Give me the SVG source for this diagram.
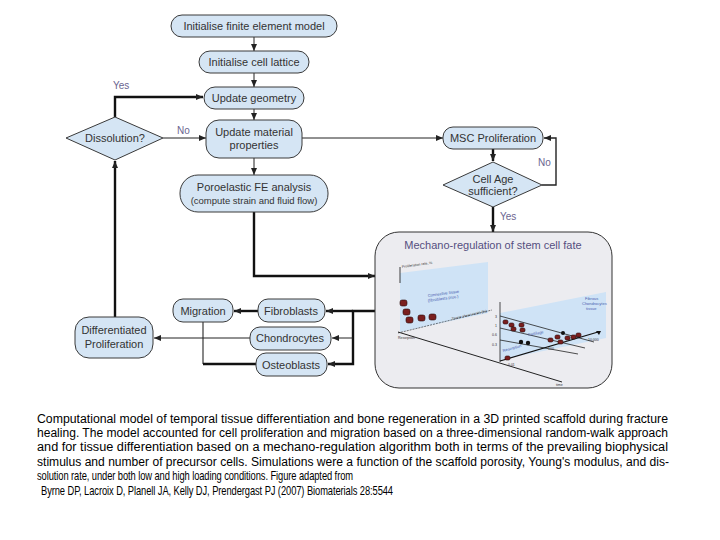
<svg xmlns="http://www.w3.org/2000/svg" width="720" height="540" viewBox="0 0 720 540">
<defs>
<marker id="ah" markerUnits="userSpaceOnUse" markerWidth="7" markerHeight="6" refX="7" refY="3" orient="auto">
<path d="M0,0 L7,3 L0,6 z" fill="#222"/>
</marker>
<style>
.n{fill:#d5e5f4;stroke:#3a3a3a;stroke-width:1}
.t{font-family:"Liberation Sans",Arial,sans-serif;font-size:11px;fill:#333;text-anchor:middle}
.lab{font-family:"Liberation Sans",Arial,sans-serif;font-size:10px;fill:#6b6590}
.thin{fill:none;stroke:#222;stroke-width:1}
.thick{fill:none;stroke:#111;stroke-width:2.4}
.cap{font-family:"Liberation Sans",Arial,sans-serif;font-size:12.5px;fill:#000}
.cap2{font-family:"Liberation Sans",Arial,sans-serif;font-size:13px;fill:#000}
.tiny{font-family:"Liberation Sans",Arial,sans-serif;font-size:3.5px;fill:#333}
.blue{font-family:"Liberation Sans",Arial,sans-serif;font-size:4px;fill:#4a5fb0}
.dot{fill:#7a1f1f;stroke:#2a0a0a;stroke-width:0.6}
</style>
</defs>
<rect width="720" height="540" fill="#fff"/>

<g id="connectors">
<path class="thin" d="M254,37 V51" marker-end="url(#ah)"/>
<path class="thin" d="M254,73 V87" marker-end="url(#ah)"/>
<path class="thin" d="M254,109 V120" marker-end="url(#ah)"/>
<path class="thin" d="M254,158 V175" marker-end="url(#ah)"/>
<path class="thick" d="M115,117 V97 H203" marker-end="url(#ah)"/>
<path class="thin" d="M163,138 H206" marker-end="url(#ah)"/>
<path class="thin" d="M302,138 H443" marker-end="url(#ah)"/>
<path class="thick" d="M493,149 V161" marker-end="url(#ah)"/>
<path class="thin" d="M542,185 H556 V138 H544" marker-end="url(#ah)" style="stroke-width:1.4"/>
<path class="thick" d="M493,207 V232" marker-end="url(#ah)"/>
<path class="thick" d="M254,212 V276 H375" marker-end="url(#ah)"/>
<path class="thick" d="M375,311 H353 V364 H328" marker-end="url(#ah)"/>
<path class="thick" d="M353,311 H326" marker-end="url(#ah)"/>
<path class="thin" d="M353,338 H332" marker-end="url(#ah)"/>
<path class="thick" d="M258,311 H234" marker-end="url(#ah)"/>
<path d="M203,322 V364" fill="none" stroke="#555" stroke-width="1.4"/>
<path class="thick" d="M203,364 H256"/>
<path class="thin" d="M250,338 H154" marker-end="url(#ah)"/>
<path class="thick" d="M115,317 V161" marker-end="url(#ah)"/>
<text class="lab" x="113" y="89">Yes</text>
<text class="lab" x="177" y="134">No</text>
<text class="lab" x="538" y="166">No</text>
<text class="lab" x="500" y="220">Yes</text>
</g>

<g id="n-init-fe">
<rect class="n" x="171" y="15" width="166" height="22" rx="11"/>
<text class="t" x="254" y="30">Initialise finite element model</text>
</g>
<g id="n-init-cell">
<rect class="n" x="199" y="51" width="110" height="22" rx="11"/>
<text class="t" x="254" y="66">Initialise cell lattice</text>
</g>
<g id="n-update-geom">
<rect class="n" x="204" y="87" width="100" height="22" rx="11"/>
<text class="t" x="254" y="102">Update geometry</text>
</g>
<g id="n-update-mat">
<rect class="n" x="206" y="120" width="96" height="38" rx="13"/>
<text class="t" x="254" y="136">Update material</text>
<text class="t" x="254" y="149">properties</text>
</g>
<g id="n-poro">
<rect class="n" x="180" y="175" width="148" height="37" rx="18"/>
<text class="t" x="254" y="191">Poroelastic FE analysis</text>
<text class="t" x="254" y="204" style="font-size:9.5px">(compute strain and fluid flow)</text>
</g>
<g id="n-dissolution">
<polygon class="n" points="115,117 163,138 115,160 66,138"/>
<text class="t" x="115" y="142">Dissolution?</text>
</g>
<g id="n-msc">
<rect class="n" x="443" y="127" width="100" height="22" rx="10"/>
<text class="t" x="493" y="142">MSC Proliferation</text>
</g>
<g id="n-cellage">
<polygon class="n" points="493,162 542,185 493,207 443,185"/>
<text class="t" x="493" y="183">Cell Age</text>
<text class="t" x="493" y="195">sufficient?</text>
</g>
<g id="n-mechano">
<rect x="375" y="232" width="237" height="156" rx="24" fill="#ececf0" stroke="#333" stroke-width="1"/>
<text x="493" y="249" style="font-family:'Liberation Sans',Arial,sans-serif;font-size:11px;fill:#554f80;text-anchor:middle">Mechano-regulation of stem cell fate</text>
<polygon points="400,273 488,262 488,313 400,332" fill="#cfe3f6"/>
<polygon points="500,313 606,292 606,338 500,360" fill="#cfe3f6"/>
<path d="M400,267 V283" stroke="#111" stroke-width="0.8"/>
<text class="tiny" x="402" y="268" transform="rotate(-8 402 268)">Proliferation rate, %</text>
<text class="blue" x="428" y="297" transform="rotate(-8 428 297)">Connective tissue</text>
<text class="blue" x="428" y="302" transform="rotate(-8 428 302)">(fibroblasts proc.)</text>
<path d="M398,333 L492,310" stroke="#222" stroke-width="0.6" stroke-dasharray="2,1"/>
<text class="tiny" x="452" y="320" transform="rotate(-13 452 320)">Tissue shear strain (%)</text>
<path d="M398,332 L562,382" stroke="#222" stroke-width="1"/>
<text class="tiny" x="398" y="339">Resorption</text>
<text class="tiny" x="556" y="386">time</text>
<path d="M500,302 V362" stroke="#222" stroke-width="0.8"/>
<path d="M500,316 L594,342 M500,328 L585,348 M500,340 L578,354" stroke="#222" stroke-width="0.8"/>
<path d="M500,361 L598,332" stroke="#111" stroke-width="1.2"/>
<path d="M596,331 L601,331 L599,335 z" fill="#111"/>
<text class="tiny" x="495" y="318">3</text>
<text class="tiny" x="495" y="327">1</text>
<text class="tiny" x="492" y="336">0.6</text>
<text class="tiny" x="492" y="346">0.3</text>
<text class="tiny" x="508" y="366">0.01</text>
<text class="tiny" x="548" y="350">100</text>
<text class="tiny" x="588" y="341">10,000</text>
<text class="blue" x="585" y="300">Fibrous</text>
<text class="blue" x="582" y="305">Chondrocytes</text>
<text class="blue" x="586" y="310">tissue</text>
<text class="blue" x="528" y="336" transform="rotate(-10 528 336)">Cartilage</text>
<text class="blue" x="503" y="352" transform="rotate(-15 503 352)">Resorption</text>
<rect class="dot" x="400" y="300" width="7" height="6" rx="2"/>
<rect class="dot" x="403" y="309" width="7" height="6" rx="2"/>
<rect class="dot" x="406" y="317" width="7" height="6" rx="2"/>
<rect class="dot" x="418" y="315" width="7" height="6" rx="2"/>
<rect class="dot" x="429" y="314" width="7" height="6" rx="2"/>
<rect class="dot" x="503" y="320" width="5" height="4" rx="1.5"/>
<rect class="dot" x="509" y="323" width="5" height="4" rx="1.5"/>
<rect class="dot" x="511" y="327" width="5" height="4" rx="1.5"/>
<rect class="dot" x="519" y="323" width="5" height="4" rx="1.5"/>
<rect class="dot" x="520" y="328" width="5" height="4" rx="1.5"/>
<rect class="dot" x="548" y="338" width="5" height="4" rx="1.5"/>
<rect class="dot" x="555" y="335" width="5" height="4" rx="1.5"/>
<rect class="dot" x="558" y="340" width="5" height="4" rx="1.5"/>
<rect class="dot" x="565" y="336" width="5" height="4" rx="1.5"/>
<rect class="dot" x="571" y="335" width="5" height="4" rx="1.5"/>
<rect class="dot" x="576" y="333" width="5" height="4" rx="1.5"/>
<rect class="dot" x="505" y="356" width="5" height="4" rx="1.5"/>
<circle cx="521" cy="342" r="2.2" fill="#111"/>
<circle cx="528" cy="343" r="2.2" fill="#111"/>
<circle cx="563" cy="333" r="2" fill="#111"/>
</g>
<g id="n-migration">
<rect class="n" x="173" y="299" width="60" height="23" rx="10"/>
<text class="t" x="203" y="315">Migration</text>
</g>
<g id="n-fibroblasts">
<rect class="n" x="258" y="299" width="67" height="23" rx="10"/>
<text class="t" x="291" y="315">Fibroblasts</text>
</g>
<g id="n-chondrocytes">
<rect class="n" x="250" y="327" width="81" height="23" rx="10"/>
<text class="t" x="290" y="342">Chondrocytes</text>
</g>
<g id="n-osteoblasts">
<rect class="n" x="256" y="353" width="71" height="23" rx="10"/>
<text class="t" x="291" y="369">Osteoblasts</text>
</g>
<g id="n-diffprolif">
<rect class="n" x="75" y="317" width="78" height="41" rx="14"/>
<text class="t" x="114" y="334">Differentiated</text>
<text class="t" x="114" y="348">Proliferation</text>
</g>

<g id="caption">
<text class="cap" x="37" y="423" textLength="631" lengthAdjust="spacingAndGlyphs">Computational model of temporal tissue differentiation and bone regeneration in a 3D printed scaffold during fracture</text>
<text class="cap" x="37" y="437" textLength="631" lengthAdjust="spacingAndGlyphs">healing. The model accounted for cell proliferation and migration based on a three-dimensional random-walk approach</text>
<text class="cap" x="37" y="451" textLength="631" lengthAdjust="spacingAndGlyphs">and for tissue differentiation based on a mechano-regulation algorithm both in terms of the prevailing biophysical</text>
<text class="cap" x="37" y="466" textLength="632" lengthAdjust="spacingAndGlyphs">stimulus and number of precursor cells. Simulations were a function of the scaffold porosity, Young's modulus, and dis-</text>
<text class="cap2" transform="translate(37,480) scale(0.72,1)" x="0" y="0" textLength="439" lengthAdjust="spacing">solution rate, under both low and high loading conditions. Figure adapted from</text>
<text class="cap2" transform="translate(41,495) scale(0.72,1)" x="0" y="0" textLength="489" lengthAdjust="spacing">Byrne DP, Lacroix D, Planell JA, Kelly DJ, Prendergast PJ (2007) Biomaterials 28:5544</text>
</g>
</svg>
